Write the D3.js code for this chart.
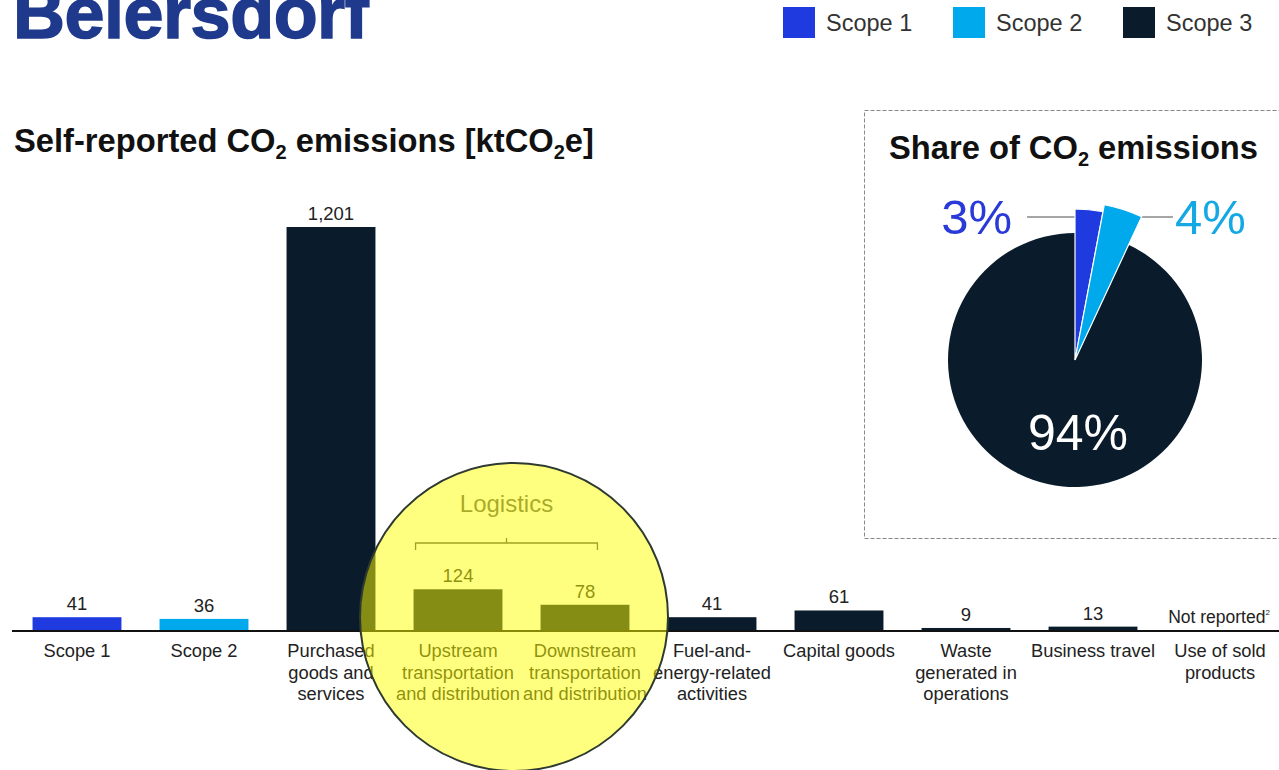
<!DOCTYPE html>
<html>
<head>
<meta charset="utf-8">
<script src="https://cdn.jsdelivr.net/npm/d3@7"></script>
<style>
  html, body { margin: 0; padding: 0; background: #ffffff; }
  svg { display: block; font-family: "Liberation Sans", Arial, sans-serif; }
</style>
</head>
<body>
<svg id="chart" width="1279" height="770"></svg>
<script>
// Emission categories (multi-line labels split with "|")
const categories = [
  "Scope 1", "Scope 2", "Purchased|goods and|services",
  "Upstream|transportation|and distribution", "Downstream|transportation|and distribution",
  "Fuel-and-|energy-related|activities", "Capital goods",
  "Waste|generated in|operations", "Business travel", "Use of sold|products"
];
// ktCO2e per category; null = not reported
const emissions = [41, 36, 1201, 124, 78, 41, 61, 9, 13, null];
const scopeOf = [1, 2, 3, 3, 3, 3, 3, 3, 3, 3];

// Share of total, per scope
const scopes = ["Scope 1", "Scope 2", "Scope 3"];
const shares = [3, 4, 94];

const scopeColors = { 1: "#1f3be0", 2: "#00a8ec", 3: "#0a1b2b" };

const svg = d3.select("#chart");

// ---- Brand wordmark (partly above the page edge)
svg.append("text")
  .attr("x", 13).attr("y", 38)
  .attr("font-size", 72).attr("font-weight", 700)
  .attr("fill", "#1f3a8c").attr("stroke", "#1f3a8c").attr("stroke-width", 1.5)
  .attr("letter-spacing", -0.5)
  .text("Beiersdorf");

// ---- Legend
const legend = svg.append("g");
const legendX = [783, 953, 1123];
scopes.forEach((s, i) => {
  legend.append("rect")
    .attr("x", legendX[i]).attr("y", 7).attr("width", 32).attr("height", 31)
    .attr("fill", scopeColors[i + 1]);
  legend.append("text")
    .attr("x", legendX[i] + 43).attr("y", 31)
    .attr("font-size", 23.5).attr("fill", "#333")
    .text(s);
});

// ---- Bar chart title
const title = svg.append("text")
  .attr("x", 14).attr("y", 152)
  .attr("font-size", 32.7).attr("font-weight", 700).attr("fill", "#111");
title.append("tspan").text("Self-reported CO");
title.append("tspan").attr("font-size", 20).attr("dy", 7).text("2");
title.append("tspan").attr("dy", -7).text(" emissions [ktCO");
title.append("tspan").attr("font-size", 20).attr("dy", 7).text("2");
title.append("tspan").attr("dy", -7).text("e]");

// ---- Scales
const x = d3.scaleBand()
  .domain(categories)
  .range([13.5, 1283.5])
  .paddingInner(0.3)
  .paddingOuter(0.15);

const baseY = 631;
const y = d3.scaleLinear().domain([0, 1201]).range([baseY, 227]);

const rows = categories.map((c, i) => ({ cat: c, value: emissions[i], scope: scopeOf[i] }));

// ---- Bars
svg.append("g").selectAll("rect")
  .data(rows.filter(d => d.value !== null))
  .join("rect")
  .attr("x", d => x(d.cat))
  .attr("width", x.bandwidth())
  .attr("y", d => y(d.value))
  .attr("height", d => y(0) - y(d.value))
  .attr("fill", d => scopeColors[d.scope]);

// ---- Value labels
svg.append("g").selectAll("text")
  .data(rows.filter(d => d.value !== null))
  .join("text")
  .attr("x", d => x(d.cat) + x.bandwidth() / 2)
  .attr("y", d => y(d.value) - 7)
  .attr("text-anchor", "middle")
  .attr("font-size", 18.5).attr("fill", "#222")
  .text(d => d3.format(",")(d.value));

// Not-reported marker
rows.filter(d => d.value === null).forEach(d => {
  const t = svg.append("text")
    .attr("x", x(d.cat) + x.bandwidth() / 2 - 1)
    .attr("y", baseY - 8)
    .attr("text-anchor", "middle")
    .attr("font-size", 17.5).attr("fill", "#222");
  t.append("tspan").text("Not reported");
  t.append("tspan").attr("font-size", 8).attr("dy", -8).text("2");
});

// ---- Axis (baseline only)
const axis = svg.append("g").attr("transform", `translate(0,${baseY})`)
  .call(d3.axisBottom(x).tickSize(0).tickFormat(""));
axis.select(".domain").attr("stroke", "#111").attr("stroke-width", 2)
  .attr("d", `M12,0H1279`);

// ---- Category labels
const catLabels = svg.append("g").selectAll("text")
  .data(rows)
  .join("text")
  .attr("text-anchor", "middle")
  .attr("font-size", 18.3).attr("fill", "#222");
catLabels.each(function (d) {
  const cx = x(d.cat) + x.bandwidth() / 2;
  d.cat.split("|").forEach((line, i) => {
    d3.select(this).append("tspan")
      .attr("x", cx).attr("y", 657 + i * 21.5)
      .text(line);
  });
});

// ---- Logistics bracket over upstream + downstream transport
const bL = x(categories[3]) + 2;
const bR = x(categories[4]) + x.bandwidth() - 32;
const midX = (bL + bR) / 2;
svg.append("path")
  .attr("d", `M${bL},550V543H${bR}V550M${midX},543V538`)
  .attr("fill", "none").attr("stroke", "#444").attr("stroke-width", 1.3);
svg.append("text")
  .attr("x", midX).attr("y", 512)
  .attr("text-anchor", "middle")
  .attr("font-size", 24).attr("fill", "#555")
  .text("Logistics");

// ---- Share panel
svg.append("rect")
  .attr("x", 864.5).attr("y", 110.5).attr("width", 430).attr("height", 428)
  .attr("fill", "none").attr("stroke", "#888").attr("stroke-width", 1)
  .attr("stroke-dasharray", "4,2");

const ptitle = svg.append("text")
  .attr("x", 889).attr("y", 159)
  .attr("font-size", 32.7).attr("font-weight", 700).attr("fill", "#111");
ptitle.append("tspan").text("Share of CO");
ptitle.append("tspan").attr("font-size", 20).attr("dy", 7).text("2");
ptitle.append("tspan").attr("dy", -7).text(" emissions");

const pieCx = 1075, pieCy = 360;
const outerR = [151, 158, 127];
const pie = d3.pie().sort(null).value(d => d);
const arcs = pie(shares);
const pieG = svg.append("g").attr("transform", `translate(${pieCx},${pieCy})`);

// Leader lines sit behind the slices
pieG.append("line").attr("x1", 1027 - pieCx).attr("x2", 0)
  .attr("y1", 217 - pieCy).attr("y2", 217 - pieCy)
  .attr("stroke", "#888").attr("stroke-width", 1.3);
pieG.append("line").attr("x1", 1100 - pieCx).attr("x2", 1173 - pieCx)
  .attr("y1", 217 - pieCy).attr("y2", 217 - pieCy)
  .attr("stroke", "#888").attr("stroke-width", 1.3);

// Scope 3 first, then the two enlarged scope 1/2 wedges on top
[2, 0, 1].forEach(i => {
  pieG.append("path")
    .attr("d", d3.arc().innerRadius(0).outerRadius(outerR[i])(arcs[i]))
    .attr("fill", scopeColors[i + 1])
    .attr("stroke", "#fff").attr("stroke-width", i === 2 ? 0 : 1.2);
});

svg.append("text")
  .attr("x", 1012).attr("y", 234).attr("text-anchor", "end")
  .attr("font-size", 49).attr("fill", "#2a3ad8")
  .text(shares[0] + "%");
svg.append("text")
  .attr("x", 1175).attr("y", 234)
  .attr("font-size", 49).attr("fill", "#14a8e4")
  .text(shares[1] + "%");
svg.append("text")
  .attr("x", 1078).attr("y", 450).attr("text-anchor", "middle")
  .attr("font-size", 50).attr("fill", "#ffffff")
  .text(shares[2] + "%");

// ---- Highlight spot over the logistics categories
svg.append("circle")
  .attr("cx", 514).attr("cy", 617).attr("r", 154)
  .attr("fill", "rgba(255,255,0,0.5)")
  .attr("stroke", "#2e3a30").attr("stroke-width", 2);
</script>
</body>
</html>
